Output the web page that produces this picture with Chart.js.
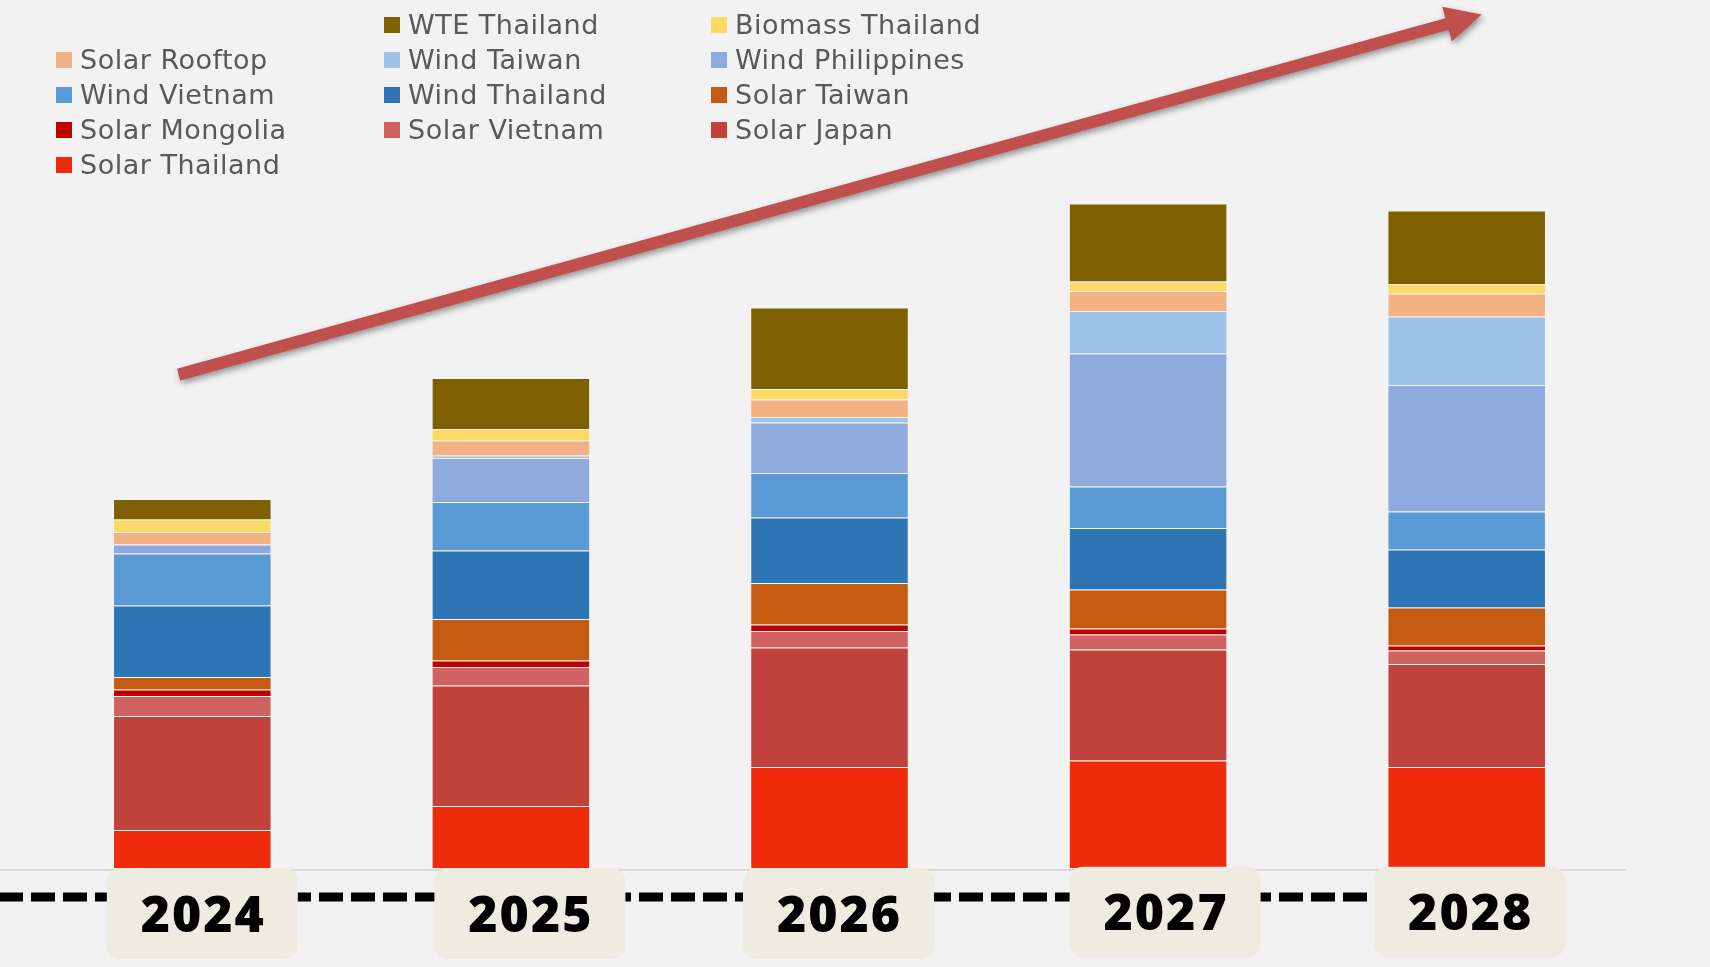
<!DOCTYPE html>
<html>
<head>
<meta charset="utf-8">
<title>Renewable pipeline 2024-2028</title>
<script src="https://cdn.jsdelivr.net/npm/chart.js@4.4.1/dist/chart.umd.min.js"></script>
<style>
  body { margin: 0; background: #f2f2f2; }
  .board { position: relative; width: 1710px; height: 967px; overflow: hidden; }
  .legend {
    position: absolute; left: 56px; top: 7px;
    display: grid; grid-template-columns: 328px 327px 340px; grid-auto-rows: 35px;
    font-family: 'DejaVu Sans', sans-serif; font-size: 27px; letter-spacing: 0.5px; color: #595959;
  }
  .legend .item { display: flex; align-items: center; white-space: nowrap; }
  .legend i { display: inline-block; width: 16px; height: 16px; margin-right: 8px; }
</style>
</head>
<body>
<div class="board">
  <canvas id="pipeline" width="1710" height="967"></canvas>
  <div class="legend" id="pipelineLegend"></div>
</div>
<script>
// capacity per year, MW (stacked bottom to top)
const years = ['2024', '2025', '2026', '2027', '2028'];

const solarThailand   = [76, 124, 202, 215, 202];
const solarJapan      = [228, 241, 239, 222, 206];
const solarVietnam    = [40, 37, 33, 30, 27];
const solarMongolia   = [13, 13, 13, 12, 10];
const solarTaiwan     = [25, 83, 83, 78, 76];
const windThailand    = [143, 137, 131, 123, 116];
const windVietnam     = [104, 97, 89, 83, 76];
const windPhilippines = [18, 88, 101, 266, 253];
const windTaiwan      = [1, 5, 11, 85, 137];
const solarRooftop    = [24, 30, 35, 40, 46];
const biomassThailand = [25, 23, 21, 19, 19];
const wteThailand     = [41, 102, 163, 156, 147];

const seriesNames = [
  'Solar Thailand', 'Solar Japan', 'Solar Vietnam', 'Solar Mongolia', 'Solar Taiwan',
  'Wind Thailand', 'Wind Vietnam', 'Wind Philippines', 'Wind Taiwan',
  'Solar Rooftop', 'Biomass Thailand', 'WTE Thailand'
];
const seriesValues = [
  solarThailand, solarJapan, solarVietnam, solarMongolia, solarTaiwan,
  windThailand, windVietnam, windPhilippines, windTaiwan,
  solarRooftop, biomassThailand, wteThailand
];
const seriesColors = [
  '#EE2C0C', '#C1423A', '#D06262', '#C00000', '#C55A11',
  '#2E75B6', '#5B9BD5', '#8FAADC', '#9DC3E6',
  '#F4B183', '#FFD966', '#7F6000'
];

// year tags sit a little off the bar centres
const tagShiftX = [10, 19, 9, 17, 3];
const tagShiftY = [0, 0, 0, -1.5, -1.5];

let Pipeline = {};

(function () {

  Pipeline = {

    chart: null,

    setup: function () {
      this.handleChart();
      this.handleLegend();
    },

    handleChart: function () {

      var ctx = document.getElementById('pipeline');

      var datasets = seriesNames.map(function (name, i) {
        return {
          label: name,
          data: seriesValues[i],
          backgroundColor: seriesColors[i],
          borderColor: 'rgba(255,255,255,0.12)',
          borderWidth: 1,
          borderSkipped: 'bottom',
          categoryPercentage: 1,
          barPercentage: 0.4975
        };
      });

      var baseLine = {
        id: 'baseLine',
        beforeDatasetsDraw: function (chart) {
          var c = chart.ctx;
          c.save();
          c.strokeStyle = '#D9D9D9';
          c.lineWidth = 2;
          c.beginPath();
          c.moveTo(0, 870);
          c.lineTo(chart.chartArea.right, 870);
          c.stroke();
          c.restore();
        }
      };

      // dashed timeline with the year tags on top of it
      var yearTags = {
        id: 'yearTags',
        afterDatasetsDraw: function (chart) {
          var c = chart.ctx, x = chart.scales.x;
          var lastX = x.getPixelForValue(years.length - 1) + tagShiftX[years.length - 1];

          c.save();
          c.strokeStyle = '#000';
          c.lineWidth = 9;
          c.setLineDash([24, 8]);
          c.beginPath();
          c.moveTo(-1, 897);
          c.lineTo(lastX, 897);
          c.stroke();
          c.setLineDash([]);

          years.forEach(function (year, i) {
            var cx = x.getPixelForValue(i) + tagShiftX[i];
            var cy = 913.6 + tagShiftY[i];
            c.fillStyle = '#EEECE1';
            c.beginPath();
            c.roundRect(cx - 95.5, cy - 45.3, 191, 90.6, 13);
            c.fill();

            c.fillStyle = '#000';
            c.font = '800 50px "Open Sans", sans-serif';
            c.letterSpacing = '2px';
            c.textAlign = 'center';
            c.textBaseline = 'alphabetic';
            c.fillText(year, cx + 1, cy + 18);
          });
          c.restore();
        }
      };

      var growthArrow = {
        id: 'growthArrow',
        afterDraw: function (chart) {
          var c = chart.ctx;
          var tail = { x: 178.6, y: 374.6 }, tip = { x: 1481.7, y: 14.5 };
          var len = Math.hypot(tip.x - tail.x, tip.y - tail.y);
          var ux = (tip.x - tail.x) / len, uy = (tip.y - tail.y) / len;
          var nx = -uy, ny = ux;
          var head = 36, half = 18, shaft = 6;
          var bx = tip.x - ux * head, by = tip.y - uy * head;

          c.save();
          c.shadowColor = 'rgba(0,0,0,0.4)';
          c.shadowBlur = 6;
          c.shadowOffsetX = 2;
          c.shadowOffsetY = 3;
          c.fillStyle = '#C0504D';
          c.beginPath();
          c.moveTo(tail.x + nx * shaft, tail.y + ny * shaft);
          c.lineTo(bx + nx * shaft, by + ny * shaft);
          c.lineTo(bx + nx * half, by + ny * half);
          c.lineTo(tip.x, tip.y);
          c.lineTo(bx - nx * half, by - ny * half);
          c.lineTo(bx - nx * shaft, by - ny * shaft);
          c.lineTo(tail.x - nx * shaft, tail.y - ny * shaft);
          c.closePath();
          c.fill();
          c.restore();
        }
      };

      this.chart = new Chart(ctx, {
        type: 'bar',
        data: {
          labels: years,
          datasets: datasets
        },
        options: {
          responsive: false,
          animation: false,
          layout: {
            padding: { left: 33, right: 84, top: 0, bottom: 99 }
          },
          scales: {
            x: { stacked: true, display: false },
            y: { stacked: true, display: false, min: 0, max: 1736 }
          },
          plugins: {
            legend: { display: false },
            tooltip: { enabled: false }
          }
        },
        plugins: [baseLine, yearTags, growthArrow]
      });
    },

    handleLegend: function () {

      // legend reads top-down in reverse stack order, first cell left empty
      var box = document.getElementById('pipelineLegend');
      var items = this.chart.data.datasets.slice().reverse();

      box.appendChild(document.createElement('span'));

      items.forEach(function (ds) {
        var item = document.createElement('span');
        item.className = 'item';
        var swatch = document.createElement('i');
        swatch.style.background = ds.backgroundColor;
        item.appendChild(swatch);
        item.appendChild(document.createTextNode(ds.label));
        box.appendChild(item);
      });
    }
  };
})();

Pipeline.setup();
</script>
</body>
</html>
